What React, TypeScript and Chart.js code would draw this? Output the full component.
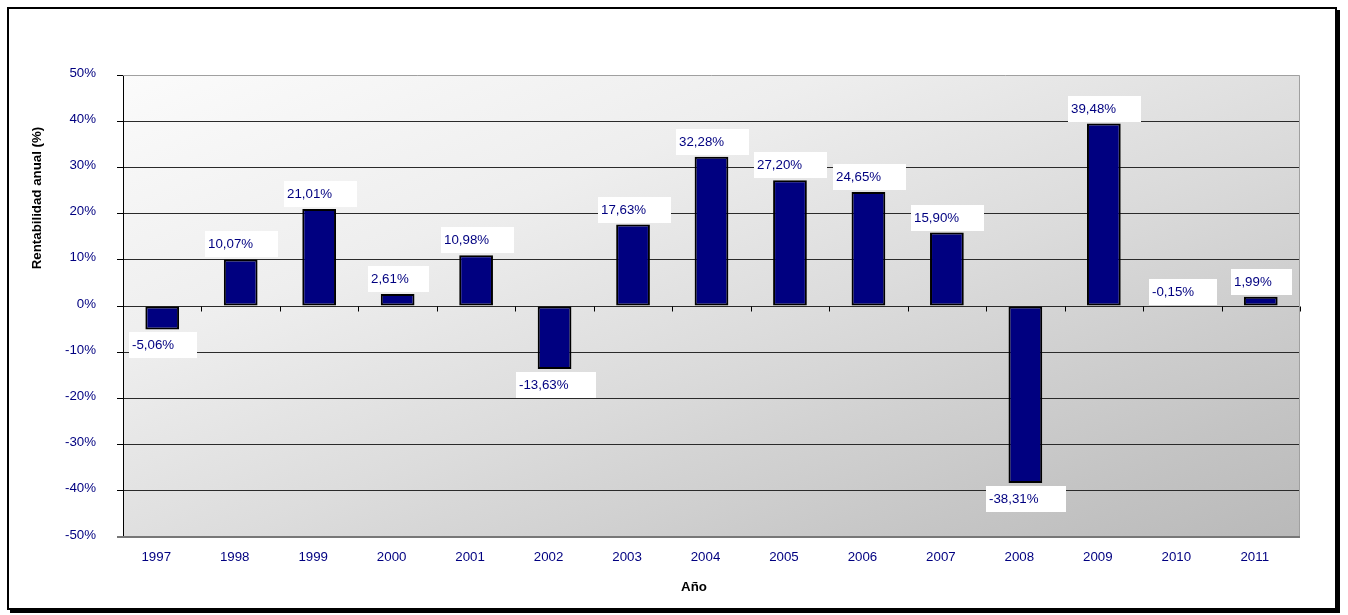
import React, { useEffect, useRef } from "react";
import { Chart, registerables } from "chart.js";

Chart.register(...registerables);

const years = ["1997", "1998", "1999", "2000", "2001", "2002", "2003", "2004", "2005", "2006", "2007", "2008", "2009", "2010", "2011"];
const returns = [-5.06, 10.07, 21.01, 2.61, 10.98, -13.63, 17.63, 32.28, 27.2, 24.65, 15.9, -38.31, 39.48, -0.15, 1.99];
const yMin = -50;
const yMax = 50;
const yStep = 10;
const yTitle = "Rentabilidad anual (%)";
const xTitle = "Año";

const FONT = "'Liberation Sans', Arial, Helvetica, sans-serif";
const NAVY = "#000080";

const fmt = (v: number) => v.toFixed(2).replace(".", ",") + "%";

const backgroundPlugin = {
  id: "plotBackground",
  beforeDraw(chart: any) {
    const { ctx, chartArea } = chart;
    const { left, top, right, bottom } = chartArea;
    const W = right - left;
    const H = bottom - top;
    const s = (2 * W * H) / (W * W + H * H);
    const g = ctx.createLinearGradient(left, top, left + H * s, top + W * s);
    g.addColorStop(0, "#fbfbfb");
    g.addColorStop(0.3, "#eeeeee");
    g.addColorStop(0.55, "#dcdcdc");
    g.addColorStop(0.85, "#c4c4c4");
    g.addColorStop(1, "#b9b9b9");
    ctx.save();
    ctx.fillStyle = g;
    ctx.fillRect(left, top, W, H);
    ctx.restore();
  },
};

const framePlugin = {
  id: "plotFrame",
  beforeDatasetsDraw(chart: any) {
    const { ctx, chartArea, scales } = chart;
    const { left, top, right, bottom } = chartArea;
    ctx.save();
    // top & right border (gray)
    ctx.strokeStyle = "#a0a0a0";
    ctx.lineWidth = 1;
    ctx.beginPath();
    ctx.moveTo(left, top + 0.5);
    ctx.lineTo(right - 0.5, top + 0.5);
    ctx.lineTo(right - 0.5, bottom);
    ctx.stroke();
    // bottom border
    ctx.strokeStyle = "#777777";
    ctx.lineWidth = 2;
    ctx.beginPath();
    ctx.moveTo(left - 6, bottom);
    ctx.lineTo(right, bottom);
    ctx.stroke();
    // tick marks on the zero line
    const x = scales.x;
    const y0 = Math.round(scales.y.getPixelForValue(0)) + 0.5;
    ctx.strokeStyle = "#000";
    ctx.lineWidth = 1;
    ctx.beginPath();
    for (let i = 0; i <= years.length; i++) {
      let px: number;
      if (i === 0) px = left;
      else if (i === years.length) px = right;
      else px = (x.getPixelForValue(i - 1) + x.getPixelForValue(i)) / 2;
      px = Math.round(px) + 0.5;
      ctx.moveTo(px, y0);
      ctx.lineTo(px, y0 + 5);
    }
    ctx.stroke();
    ctx.restore();
  },
};

const labelPlugin = {
  id: "boxLabels",
  afterDatasetsDraw(chart: any) {
    const { ctx } = chart;
    const meta = chart.getDatasetMeta(0);
    ctx.save();
    ctx.font = `13.3px ${FONT}`;
    ctx.textBaseline = "middle";
    ctx.textAlign = "left";
    meta.data.forEach((bar: any, i: number) => {
      const v = returns[i];
      const text = fmt(v);
      const tw = ctx.measureText(text).width;
      const bw = Math.round(tw * 1.62);
      const bh = 26;
      const cx = bar.x + 1;
      const bx = Math.round(cx - bw / 2);
      let by: number;
      if (v >= 0 || Math.abs(v) < 1) {
        by = Math.min(bar.y, bar.base) - 2 - bh;
      } else {
        by = bar.y + 3;
      }
      by = Math.round(by);
      ctx.fillStyle = "#ffffff";
      ctx.fillRect(bx, by, bw, bh);
      ctx.fillStyle = NAVY;
      ctx.fillText(text, bx + 3, by + bh / 2 + 0.5);
    });
    ctx.restore();
  },
};

const titlesPlugin = {
  id: "axisTitles",
  afterDraw(chart: any) {
    const { ctx } = chart;
    ctx.save();
    ctx.font = `bold 13.3px ${FONT}`;
    ctx.fillStyle = "#000";
    ctx.textAlign = "center";
    ctx.textBaseline = "middle";
    ctx.fillText(xTitle, 694, 587);
    ctx.translate(37, 198);
    ctx.rotate(-Math.PI / 2);
    ctx.fillText(yTitle, 0, 0);
    ctx.restore();
  },
};

export default function App() {
  const canvasRef = useRef<HTMLCanvasElement | null>(null);

  useEffect(() => {
    const canvas = canvasRef.current;
    if (!canvas) return;
    Chart.defaults.font.family = FONT;
    const chart = new Chart(canvas, {
      type: "bar",
      data: {
        labels: years,
        datasets: [
          {
            data: returns,
            backgroundColor: NAVY,
            borderColor: "#000",
            borderWidth: 2,
            borderSkipped: false,
            barPercentage: 0.43,
            categoryPercentage: 1,
          },
        ],
      },
      options: {
        responsive: false,
        animation: false,
        devicePixelRatio: 1,
        layout: { padding: { left: 60, top: 75, right: 48, bottom: 28 } },
        plugins: {
          legend: { display: false },
          tooltip: { enabled: false },
          title: { display: false },
        },
        scales: {
          x: {
            type: "category",
            offset: true,
            grid: { display: false, drawTicks: false },
            border: { display: false },
            ticks: {
              color: NAVY,
              font: { size: 13.3 },
              padding: 12,
              labelOffset: -6,
              maxRotation: 0,
              autoSkip: false,
            },
            afterFit(scale: any) {
              scale.height = 50;
            },
          },
          y: {
            min: yMin,
            max: yMax,
            grid: {
              color: (c: any) =>
                c.tick && (c.tick.value === yMin || c.tick.value === yMax) ? "rgba(0,0,0,0)" : "#2a2a2a",
              lineWidth: 1,
              tickColor: "#000",
              tickLength: 6,
              drawTicks: true,
            },
            border: { display: true, color: "#000", width: 1 },
            ticks: {
              stepSize: yStep,
              color: NAVY,
              font: { size: 13.3 },
              padding: 21,
              labelOffset: -2,
              callback: (v: any) => `${v}%`,
            },
            afterFit(scale: any) {
              scale.width = 63;
            },
          },
        },
      },
      plugins: [backgroundPlugin, framePlugin, labelPlugin, titlesPlugin],
    });
    return () => chart.destroy();
  }, []);

  return (
    <div style={{ position: "fixed", left: 0, top: 0, width: 1348, height: 615, background: "#fff" }}>
      <canvas
        ref={canvasRef}
        width={1348}
        height={615}
        style={{ position: "absolute", left: 0, top: 0, width: 1348, height: 615, display: "block" }}
      />
      <div
        style={{
          position: "absolute",
          left: 7,
          top: 7,
          width: 1330,
          height: 603,
          boxSizing: "border-box",
          border: "2px solid #000",
          boxShadow: "3px 3px 0 #000",
          pointerEvents: "none",
        }}
      />
    </div>
  );
}
